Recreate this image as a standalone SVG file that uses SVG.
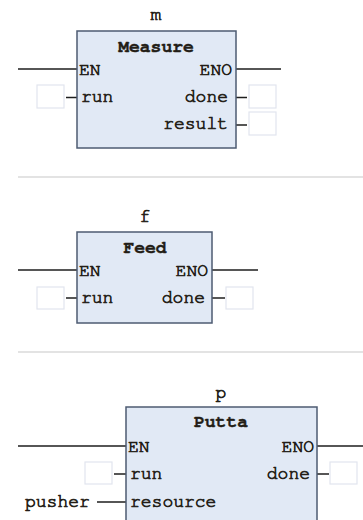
<svg xmlns="http://www.w3.org/2000/svg" width="363" height="520" viewBox="0 0 363 520">
  <style>
    .block { fill: #e1e9f5; stroke: #4d5b72; stroke-width: 1.5; }
    .slot { fill: #ffffff; stroke: #e2e5ee; stroke-width: 1.2; }
    .wire { stroke: #1e1e1e; stroke-width: 1.5; fill: none; }
    .sep { stroke: #e3e3e3; stroke-width: 2; }
    text { font-family: "Nimbus Mono PS", "FreeMono", "Courier New", "Liberation Mono", monospace; font-size: 18px; fill: #231d16; stroke: #231d16; stroke-width: 0.7; }
    .title { font-weight: bold; stroke-width: 0.4; }
    .mid { text-anchor: middle; }
    .end { text-anchor: end; }
  </style>
  <rect width="363" height="520" fill="#ffffff"/>

  <!-- separators between rungs -->
  <line class="sep" x1="18" y1="177" x2="363" y2="177"/>
  <line class="sep" x1="18" y1="352" x2="363" y2="352"/>

  <!-- wiring -->
  <g id="connectors">
    <line class="wire" x1="18" y1="69" x2="77" y2="69"/>
    <line class="wire" x1="236" y1="69" x2="281" y2="69"/>
    <line class="wire" x1="66" y1="97.5" x2="77" y2="97.5"/>
    <line class="wire" x1="236" y1="97.5" x2="247" y2="97.5"/>
    <line class="wire" x1="236" y1="125" x2="247" y2="125"/>

    <line class="wire" x1="18" y1="270" x2="77" y2="270"/>
    <line class="wire" x1="212" y1="270" x2="258" y2="270"/>
    <line class="wire" x1="66" y1="298" x2="77" y2="298"/>
    <line class="wire" x1="212" y1="298" x2="225" y2="298"/>

    <line class="wire" x1="18" y1="446" x2="126" y2="446"/>
    <line class="wire" x1="317" y1="446" x2="363" y2="446"/>
    <line class="wire" x1="114" y1="474" x2="126" y2="474"/>
    <line class="wire" x1="317" y1="474" x2="329" y2="474"/>
    <line class="wire" x1="97" y1="502" x2="126" y2="502"/>
  </g>

  <!-- Measure instance -->
  <g id="m">
    <text class="mid" x="156" y="20">m</text>
    <rect class="block" x="77" y="31" width="159" height="117"/>
    <text class="title mid" x="156" y="52">Measure</text>
    <text x="79" y="75">EN</text>
    <text x="81" y="102">run</text>
    <text class="end" x="232" y="75">ENO</text>
    <text class="end" x="228" y="102">done</text>
    <text class="end" x="228" y="129">result</text>
    <rect class="slot" x="37" y="85" width="27" height="23"/>
    <rect class="slot" x="249" y="85" width="27" height="23"/>
    <rect class="slot" x="249" y="112" width="27" height="23"/>
  </g>

  <!-- Feed instance -->
  <g id="f">
    <text class="mid" x="145" y="222">f</text>
    <rect class="block" x="77" y="232" width="135" height="91"/>
    <text class="title mid" x="145" y="253">Feed</text>
    <text x="79" y="276">EN</text>
    <text x="81" y="303">run</text>
    <text class="end" x="208" y="276">ENO</text>
    <text class="end" x="205" y="303">done</text>
    <rect class="slot" x="37" y="287" width="27" height="22"/>
    <rect class="slot" x="226" y="287" width="27" height="22"/>
  </g>

  <!-- Putta instance -->
  <g id="p">
    <text class="mid" x="221" y="398">p</text>
    <rect class="block" x="126" y="407" width="191" height="125"/>
    <text class="title mid" x="221" y="427">Putta</text>
    <text x="128" y="452">EN</text>
    <text x="130" y="479">run</text>
    <text x="130" y="507">resource</text>
    <text class="end" x="314" y="452">ENO</text>
    <text class="end" x="310" y="479">done</text>
    <rect class="slot" x="85" y="462" width="27" height="22"/>
    <rect class="slot" x="330" y="462" width="27" height="22"/>
    <text x="25" y="507">pusher</text>
  </g>
</svg>
